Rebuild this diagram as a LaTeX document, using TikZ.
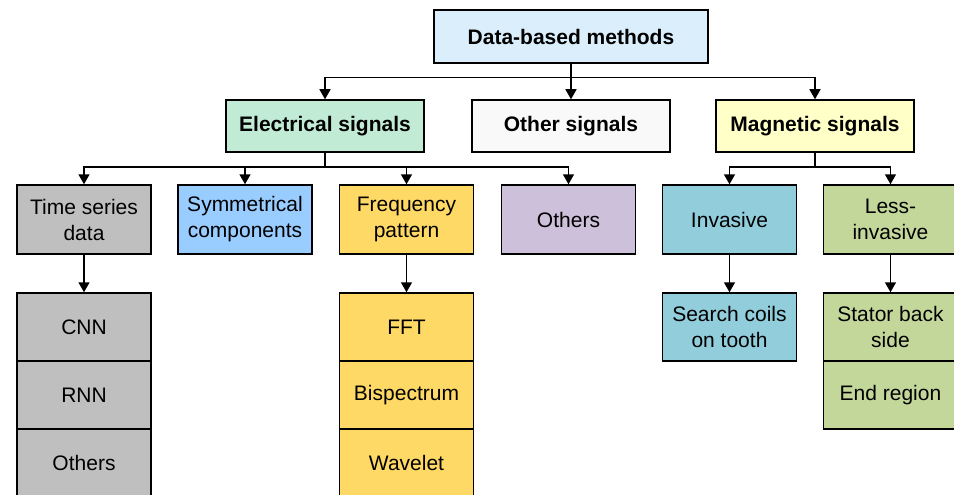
\documentclass[tikz,border=0pt]{standalone}
\usepackage{fontspec}
\setmainfont{Liberation Sans}
\usepackage{tikz}
\usetikzlibrary{shapes,arrows.meta}
\usetikzlibrary{positioning}

\definecolor{topblue}{RGB}{218,239,251}
\definecolor{elecgreen}{RGB}{193,235,213}
\definecolor{othgray}{RGB}{249,249,249}
\definecolor{magyellow}{RGB}{255,255,200}
\definecolor{tsgray}{RGB}{191,191,191}
\definecolor{symblue}{RGB}{153,204,255}
\definecolor{freqyellow}{RGB}{255,217,102}
\definecolor{othpurple}{RGB}{204,192,218}
\definecolor{invblue}{RGB}{146,205,220}
\definecolor{lessgreen}{RGB}{196,215,155}

\begin{document}
\begin{tikzpicture}[x=1pt,y=-1pt,
  every node/.style={draw,line width=1.5pt,align=center,font=\fontsize{21}{26}\selectfont},
  head/.style={minimum width=198pt,minimum height=52pt,font=\fontsize{21}{26}\selectfont\bfseries},
  leaf/.style={minimum width=134pt,minimum height=69pt},
  sub/.style={minimum width=134pt,minimum height=68pt},
  arr/.style={line width=1.5pt,-{Triangle[length=10pt,width=11pt]}}]

  \clip (0,0) rectangle (954,495);

  % root
  \node[head,minimum width=274pt,minimum height=53pt,fill=topblue] (root) at (571,36.5) {Data-based methods};

  % signals
  \node[head,fill=elecgreen] (elec)  at (325,126) {Electrical signals};
  \node[head,fill=othgray]   (other) at (571,126) {Other signals};
  \node[head,fill=magyellow] (mag)   at (815,126) {Magnetic signals};

  % electrical branch
  \node[leaf,fill=tsgray]     (ts)   at (84,219.5)    {Time series\\data};
  \node[leaf,fill=symblue]    (sym)  at (245,219.5)   {Symmetrical\\components};
  \node[leaf,fill=freqyellow] (freq) at (406.5,219.5) {Frequency\\pattern};
  \node[leaf,fill=othpurple]  (oth)  at (568.5,219.5) {Others};

  % magnetic branch
  \node[leaf,fill=invblue]   (inv)  at (729.5,219.5) {Invasive};
  \node[leaf,fill=lessgreen] (less) at (890.5,219.5) {Less-\\invasive};

  % time series
  \node[sub,fill=tsgray] (cnn)  at (84,327) {CNN};
  \node[sub,fill=tsgray] (rnn)  at (84,395) {RNN};
  \node[sub,fill=tsgray] (tsot) at (84,463) {Others};

  % frequency
  \node[sub,fill=freqyellow] (fft) at (406.5,327) {FFT};
  \node[sub,fill=freqyellow] (bis) at (406.5,395) {Bispectrum};
  \node[sub,fill=freqyellow] (wav) at (406.5,463) {Wavelet};

  % sensors
  \node[sub,fill=invblue]   (coil)   at (729.5,327) {Search coils\\on tooth};
  \node[sub,fill=lessgreen] (stator) at (890.5,327) {Stator back\\side};
  \node[sub,fill=lessgreen] (endreg) at (890.5,395) {End region};

  % connectors
  \draw[arr] (root.south) -- ++(0,14) -| (elec.north);
  \draw[arr] (root.south) -- (other.north);
  \draw[arr] (root.south) -- ++(0,14) -| (mag.north);

  \draw[arr] (elec.south) -- ++(0,14) -| (ts.north);
  \draw[arr] (elec.south) -- ++(0,14) -| (sym.north);
  \draw[arr] (elec.south) -- ++(0,14) -| (freq.north);
  \draw[arr] (elec.south) -- ++(0,14) -| (oth.north);

  \draw[arr] (mag.south) -- ++(0,14) -| (inv.north);
  \draw[arr] (mag.south) -- ++(0,14) -| (less.north);

  \draw[arr] (ts.south) -- (cnn.north);
  \draw[arr] (freq.south) -- (fft.north);
  \draw[arr] (inv.south) -- (coil.north);
  \draw[arr] (less.south) -- (stator.north);

\end{tikzpicture}
\end{document}
